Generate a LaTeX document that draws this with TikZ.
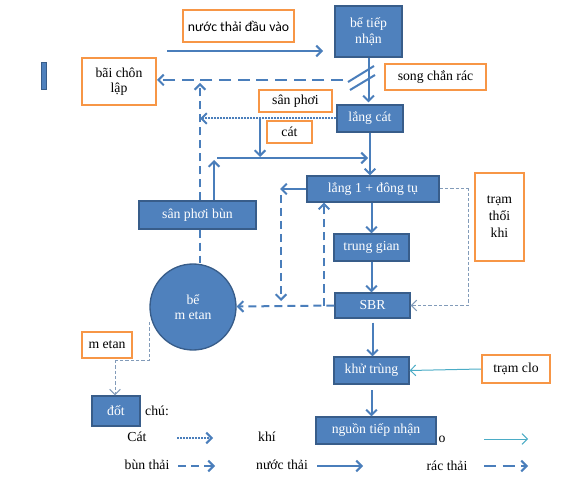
\documentclass[tikz,border=0pt]{standalone}
\usepackage{fontspec}
\setmainfont{Liberation Serif}
\newfontfamily\calfont{Carlito}
\usetikzlibrary{arrows.meta}
\definecolor{boxblue}{RGB}{79,129,189}
\definecolor{boxedge}{RGB}{56,93,138}
\definecolor{lineblue}{RGB}{74,126,187}
\definecolor{tagorange}{RGB}{247,150,70}
\definecolor{airgrey}{RGB}{130,155,185}
\definecolor{clocyan}{RGB}{75,172,198}

\begin{document}
\begin{tikzpicture}[x=0.75pt,y=-0.75pt,
  font=\fontsize{10.3}{11.5}\selectfont,
  boxsize/.style 2 args={minimum width=#1*0.75pt,minimum height=#2*0.75pt},
  blk/.style={draw=boxedge,line width=1pt,fill=boxblue,text=white,inner sep=0pt,align=center},
  lbl/.style={draw=tagorange,line width=1.5pt,fill=white,inner sep=0pt,align=center},
  water/.style={draw=lineblue,line width=1.5pt,-{Straight Barb[length=4pt,width=8pt]}},
  sludge/.style={water,dash pattern=on 6pt off 3.75pt},
  screenings/.style={water,dash pattern=on 9pt off 5pt},
  sand/.style={water,dash pattern=on 1.5pt off 0.75pt},
  air/.style={draw=airgrey,line width=0.75pt,dash pattern=on 2.5pt off 1.5pt,-{Straight Barb[length=4pt,width=8pt]}},
  dose/.style={draw=clocyan,line width=0.75pt,-{Straight Barb[length=4pt,width=8pt]}}]
\useasboundingbox (0,0) rectangle (583,485);

% legend
\path (157,411) node (keytitle)  {chú:};
\path (137,437) node (keysand)   {Cát};
\path (267,437) node (keyair)    {khí};
\path (442,439) node (keyo)      {o};
\path (147,465) node (keysludge) {bùn thải};
\path (282,465) node (keywater)  {nước thải};
\path (447,466) node (keyscreen) {rác thải};

% stray mark
\filldraw[fill=boxblue,draw=boxedge,line width=0.75pt] (41,63) rectangle (46,90);

% units
\path (238.5,26)  node[lbl,boxsize={111}{32},font=\calfont\fontsize{10.3}{12}\selectfont] (inflow) {nước thải đầu vào};
\path (368.5,31.5) node[blk,boxsize={67}{51}]  (tank)      {bể tiếp\\nhận};
\path (435.5,77)  node[lbl,boxsize={101}{26}]  (screen)    {song chắn rác};
\path (119,81.5)  node[lbl,boxsize={74}{47}]   (landfill)  {bãi chôn\\lập};
\path (295.5,101) node[lbl,boxsize={73}{22}]   (dryA)      {sân phơi};
\path (370,118.5) node[blk,boxsize={66}{27}]   (grit)      {lắng cát};
\path (289.5,132) node[lbl,boxsize={45}{22}]   (dryB)      {cát};
\path (373,189)   node[blk,boxsize={132}{26}]  (settle)    {lắng 1 + đông tụ};
\path (197.5,215) node[blk,boxsize={117}{28}]  (sludgebed) {sân phơi bùn};
\path (371.5,247.5) node[blk,boxsize={75}{27}] (buffer)    {trung gian};
\path (372.5,305.5) node[blk,boxsize={75}{25}] (sbr)       {SBR};
\path (193,307)   node[blk,circle,minimum size=86*0.75pt] (digester) {bể\\m etan};
\path (499.5,217) node[lbl,boxsize={49}{88},font=\fontsize{10.3}{12.75}\selectfont] (blower) {trạm\\thổi\\khi};
\path (371.5,370.5) node[blk,boxsize={75}{27}] (disinfect) {khử trùng};
\path (516,369)   node[lbl,boxsize={68}{28}]   (chlorine)  {trạm clo};
\path (376,430.5) node[blk,boxsize={120}{27}]  (outlet)    {nguồn tiếp nhận};
\path (107,345)   node[lbl,boxsize={50}{26}]   (biogas)    {m etan};
\path (116,411)   node[blk,boxsize={48}{30}]   (flare)     {đốt};

% free ends
\coordinate (in1) at (167,51);
\coordinate (in2) at (323,51);
\coordinate (rac) at (343,80);
\coordinate (up1) at (200,83);
\coordinate (c1)  at (260,118.5);
\coordinate (c2)  at (260,157);
\coordinate (h1)  at (217,158);
\coordinate (h2)  at (368,158);
\coordinate (r1)  at (214,160);
\coordinate (l1)  at (280,189);
\coordinate (d1)  at (281,195);
\coordinate (d2)  at (281,301);
\coordinate (u1)  at (324,305.5);
\coordinate (k1)  at (468,189);
\coordinate (m1)  at (115,360);

% main line
\draw[water] (in1) -- (in2);
\draw[water,shorten >=1.5pt] (tank.south) -- (tank.south |- grit.north);
\draw[lineblue,line width=1.5pt] (348,82) -- (374,66);
\draw[lineblue,line width=1.5pt] (350,90) -- (375,75);
\draw[screenings] (rac) -- (rac -| landfill.east);
\draw[sand] (grit.west) -- (grit.west -| up1);
\draw[water] (c1) -- (c2);
\draw[water] (h1) -- (h2);
\draw[water] (grit.south) -- (grit.south |- settle.north);
\draw[water] (settle.south -| buffer.north) -- (buffer.north);
\draw[water] (buffer.south) -- (buffer.south |- sbr.north);
\draw[water,shorten <=3pt] (sbr.south) -- (sbr.south |- disinfect.north);
\draw[water,shorten <=4pt] (disinfect.south) -- (disinfect.south |- outlet.north);

% sludge
\draw[sludge] (sludgebed.north -| up1) -- (up1);
\draw[sludge,-] (sludgebed.south -| up1) -- (up1 |- digester.north);
\draw[water] (sludgebed.north -| r1) -- (r1);
\draw[water] (settle.west) -- (l1);
\draw[sludge] (d1) -- (d2);
\draw[sludge] (sbr.west) -- (digester);
\draw[sludge] (u1) -- (u1 |- settle.south);

% air, chlorine, gas
\draw[air] (settle.east) -- (k1) -- (k1 |- sbr.east) -- (sbr.east);
\draw[dose] (chlorine.west) -- (disinfect.east);
\draw[air,-] (digester.west |- digester.200) -- (digester.west |- m1) -- (m1);
\draw[air] (m1) -- (m1 |- flare.north);

% legend arrows
\draw[sand]       (177,438) -- (213,438);
\draw[dose]       (484,439) -- (528,439);
\draw[sludge]     (178,466) -- (215,466);
\draw[water]      (317,466) -- (363,466);
\draw[screenings] (484,466) -- (528,466);
\end{tikzpicture}
\end{document}
